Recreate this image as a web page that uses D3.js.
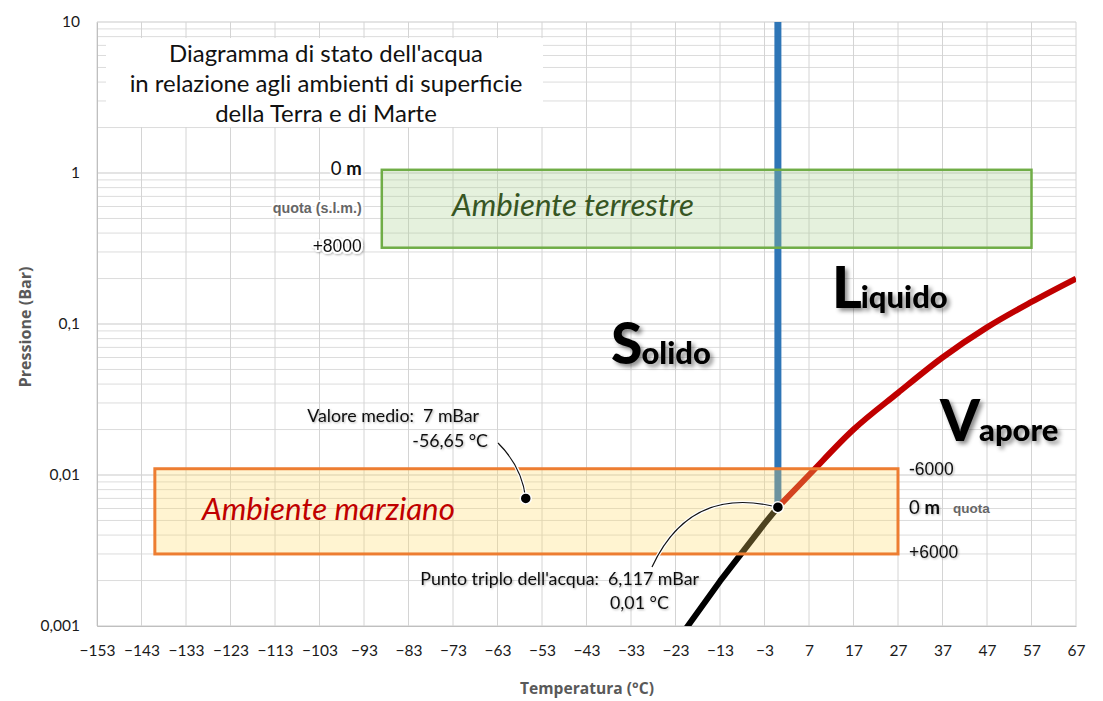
<!DOCTYPE html>
<html>
<head>
<meta charset="utf-8">
<script src="https://cdn.jsdelivr.net/npm/d3@7"></script>
<style>
  body { margin: 0; background: #fff; }
  svg { display: block; font-family: Lato, "Noto Sans", sans-serif; }
</style>
</head>
<body>
<svg id="chart" width="1103" height="701"></svg>
<script>
// axis ticks
const tempTicks = d3.range(-153, 68, 10);
const pressTicks = [0.001, 0.01, 0.1, 1, 10];
const pressLabels = ['0,001', '0,01', '0,1', '1', '10'];

// liquido / vapore
const vapTemp = [0.01, 7, 17, 27, 37, 47, 57, 67];
const vapPress = [0.006117, 0.01, 0.02, 0.035, 0.06, 0.095, 0.14, 0.2];
// solido / vapore
const sublTemp = [-23, -13, -3, 0.01];
const sublPress = [0.00077, 0.00198, 0.00476, 0.006117];
// solido / liquido
const meltTemp = [0.01, 0.01];
const meltPress = [0.006117, 10];

const triplePoint = [0.01, 0.006117];
const marsMean = [-56.65, 0.007];

// ambienti (temperature min/max, pressione min/max)
const earthTemp = [-89, 57];
const earthPress = [0.32, 1.05];
const marsTemp = [-140, 27];
const marsPress = [0.003, 0.011];

const svg = d3.select('#chart');
const m = { left: 97, right: 1076, top: 22, bottom: 626 };

const x = d3.scaleLinear().domain([-153, 67]).range([m.left, m.right]);
const y = d3.scaleLog().domain([0.001, 10]).range([m.bottom, m.top]);

// shadows
const defs = svg.append('defs');
defs.append('filter').attr('id', 'bigShadow').attr('x', '-20%').attr('y', '-20%').attr('width', '150%').attr('height', '150%')
  .append('feDropShadow').attr('dx', 3).attr('dy', 3).attr('stdDeviation', 2.2)
  .attr('flood-color', '#000').attr('flood-opacity', 0.45);
defs.append('filter').attr('id', 'softShadow').attr('x', '-10%').attr('y', '-30%').attr('width', '130%').attr('height', '170%')
  .append('feDropShadow').attr('dx', 1).attr('dy', 1).attr('stdDeviation', 1)
  .attr('flood-color', '#000').attr('flood-opacity', 0.3);
defs.append('clipPath').attr('id', 'plotClip').append('rect')
  .attr('x', m.left).attr('y', m.top).attr('width', m.right - m.left).attr('height', m.bottom - m.top);

// scale a text's font size so it spans w pixels
function fitWidth(sel, w) {
  const fs = parseFloat(sel.attr('font-size'));
  const len = sel.node().getComputedTextLength();
  sel.attr('font-size', fs * w / len);
  return fs * w / len;
}

// grid
const grid = svg.append('g');
grid.selectAll('.hgrid').data(y.ticks()).join('line')
  .attr('x1', m.left).attr('x2', m.right)
  .attr('y1', d => y(d)).attr('y2', d => y(d))
  .attr('stroke', d => pressTicks.includes(d) ? '#c9c9c9' : '#dcdcdc')
  .attr('stroke-width', 1);
grid.selectAll('.vgrid').data(tempTicks).join('line')
  .attr('x1', d => x(d)).attr('x2', d => x(d))
  .attr('y1', m.top).attr('y2', m.bottom)
  .attr('stroke', '#d4d4d4').attr('stroke-width', 1);

// axes
const yAxis = d3.axisLeft(y).tickValues(pressTicks).tickFormat((d, i) => pressLabels[i]).tickSize(0).tickPadding(17);
svg.append('g').attr('transform', `translate(${m.left},0)`).call(yAxis)
  .call(g => g.select('.domain').attr('stroke', '#bfbfbf'))
  .call(g => g.selectAll('text').attr('font-size', 15.5).attr('fill', '#1a1a1a').attr('font-family', 'Lato'));
const xAxis = d3.axisBottom(x).tickValues(tempTicks).tickSize(0).tickPadding(19);
svg.append('g').attr('transform', `translate(0,${m.bottom})`).call(xAxis)
  .call(g => g.select('.domain').attr('stroke', '#bfbfbf'))
  .call(g => g.selectAll('text').attr('font-size', 15.5).attr('fill', '#1a1a1a').attr('font-family', 'Lato'));

const yTitle = svg.append('text').attr('transform', 'translate(31,327) rotate(-90)').attr('text-anchor', 'middle')
  .attr('font-family', '"Open Sans"').attr('font-weight', 'bold').attr('font-size', 14).attr('fill', '#595959')
  .text('Pressione (Bar)');
fitWidth(yTitle, 121);
const xTitle = svg.append('text').attr('x', 587).attr('y', 694).attr('text-anchor', 'middle')
  .attr('font-family', '"Open Sans"').attr('font-weight', 'bold').attr('font-size', 14).attr('fill', '#595959')
  .text('Temperatura (°C)');
fitWidth(xTitle, 134);

// title block
svg.append('rect').attr('x', 106).attr('y', 38).attr('width', 437).attr('height', 89).attr('fill', '#fff');
const titleLines = ["Diagramma di stato dell'acqua", 'in relazione agli ambienti di superficie', 'della Terra e di Marte'];
const title = svg.append('g').attr('font-size', 20).attr('fill', '#111').attr('text-anchor', 'middle');
title.selectAll('text').data(titleLines).join('text')
  .attr('x', 326).attr('y', (d, i) => 62 + i * 30).text(d => d);
{
  const len = title.selectAll('text').nodes()[1].getComputedTextLength();
  title.attr('font-size', 20 * 393 / len);
}

// phase curves
const line = d3.line().x(d => x(d[0])).y(d => y(d[1]));
const curves = svg.append('g').attr('clip-path', 'url(#plotClip)').attr('fill', 'none').attr('stroke-linejoin', 'round');
curves.append('path').datum(meltTemp.map((t, i) => [t, meltPress[i]]))
  .attr('d', line).attr('stroke', '#2e75b6').attr('stroke-width', 7);
curves.append('path').datum(sublTemp.map((t, i) => [t, sublPress[i]]))
  .attr('d', line).attr('stroke', '#000').attr('stroke-width', 6);
curves.append('path').datum(vapTemp.map((t, i) => [t, vapPress[i]]))
  .attr('d', line.curve(d3.curveMonotoneX)).attr('stroke', '#c00000').attr('stroke-width', 6);

// environment boxes
svg.append('rect')
  .attr('x', x(earthTemp[0])).attr('y', y(earthPress[1]))
  .attr('width', x(earthTemp[1]) - x(earthTemp[0])).attr('height', y(earthPress[0]) - y(earthPress[1]))
  .attr('fill', '#a9d08e').attr('fill-opacity', 0.3)
  .attr('stroke', '#70ad47').attr('stroke-width', 2.5);
svg.append('rect')
  .attr('x', x(marsTemp[0])).attr('y', y(marsPress[1]))
  .attr('width', x(marsTemp[1]) - x(marsTemp[0])).attr('height', y(marsPress[0]) - y(marsPress[1]))
  .attr('fill', '#ffd966').attr('fill-opacity', 0.3)
  .attr('stroke', '#ed7d31').attr('stroke-width', 3);

const terr = svg.append('text').attr('x', 452).attr('y', 216).attr('font-size', 26)
  .attr('font-style', 'italic').attr('fill', '#375623').text('Ambiente terrestre');
fitWidth(terr, 242);
const marz = svg.append('text').attr('x', 202).attr('y', 520).attr('font-size', 28)
  .attr('font-style', 'italic').attr('fill', '#c00000').text('Ambiente marziano');
fitWidth(marz, 253);

// quota labels
const halo = s => s.attr('stroke', '#fff').attr('stroke-width', 4).attr('paint-order', 'stroke').attr('stroke-linejoin', 'round');
const eL = x(earthTemp[0]) - 20;
const zeroE = svg.append('text').attr('x', eL).attr('y', y(earthPress[1]) + 5).attr('text-anchor', 'end').attr('font-size', 18.5).attr('fill', '#111').call(halo);
zeroE.append('tspan').text('0 ');
zeroE.append('tspan').attr('font-weight', 'bold').text('m');
svg.append('text').attr('x', eL).attr('y', 213).attr('text-anchor', 'end')
  .attr('font-family', '"Liberation Sans"').attr('font-weight', 'bold').attr('font-size', 14.3).attr('fill', '#666')
  .call(halo).text('quota (s.l.m.)');
svg.append('text').attr('x', eL).attr('y', y(earthPress[0]) + 4).attr('text-anchor', 'end')
  .attr('font-family', '"Liberation Sans"').attr('font-size', 17.5).attr('fill', '#111')
  .call(halo).attr('filter', 'url(#softShadow)').text('+8000');

const mL = x(marsTemp[1]) + 11;
svg.append('text').attr('x', mL).attr('y', y(marsPress[1]) + 6)
  .attr('font-family', '"Liberation Sans"').attr('font-size', 17.5).attr('fill', '#111')
  .attr('filter', 'url(#softShadow)').text('-6000');
const zeroM = svg.append('text').attr('x', mL).attr('y', 514).attr('font-size', 18.5).attr('fill', '#111').attr('filter', 'url(#softShadow)');
zeroM.append('tspan').text('0 ');
zeroM.append('tspan').attr('font-weight', 'bold').text('m');
svg.append('text').attr('x', mL + 44).attr('y', 513)
  .attr('font-family', '"Liberation Sans"').attr('font-weight', 'bold').attr('font-size', 13.5).attr('fill', '#666')
  .text('quota');
svg.append('text').attr('x', mL).attr('y', y(marsPress[0]) + 4)
  .attr('font-family', '"Liberation Sans"').attr('font-size', 17.5).attr('fill', '#111')
  .attr('filter', 'url(#softShadow)').text('+6000');

// phase labels
const phases = [
  { big: 'L', rest: 'iquido', px: 832, py: 308 },
  { big: 'S', rest: 'olido', px: 611, py: 364 },
  { big: 'V', rest: 'apore', px: 940, py: 441 }
];
phases.forEach(p => {
  const t = svg.append('text').attr('x', p.px).attr('y', p.py).attr('font-weight', 900)
    .attr('fill', '#000').attr('filter', 'url(#bigShadow)');
  t.append('tspan').attr('font-size', 57).text(p.big);
  t.append('tspan').attr('font-size', 31).attr('dx', -1).text(p.rest);
});

// annotations (second space kept visible as a non-breaking space)
const note = svg.append('g').attr('fill', '#111');
const tripleText = note.append('text').attr('x', 699).attr('y', 585).attr('text-anchor', 'end')
  .attr('font-size', 16).attr('filter', 'url(#softShadow)').text("Punto triplo dell'acqua: \u00a06,117 mBar");
const noteSize = fitWidth(tripleText, 279);
note.append('text').attr('x', 479).attr('y', 422).attr('text-anchor', 'end').attr('font-size', noteSize)
  .attr('filter', 'url(#softShadow)').text('Valore medio: \u00a07 mBar');
note.append('text').attr('x', 488).attr('y', 447).attr('text-anchor', 'end').attr('font-size', noteSize)
  .attr('filter', 'url(#softShadow)').text('-56,65 °C');
note.append('text').attr('x', 610).attr('y', 609).attr('font-size', noteSize)
  .attr('filter', 'url(#softShadow)').text('0,01 °C');

const mx = x(marsMean[0]), my = y(marsMean[1]);
const tx = x(triplePoint[0]), ty = y(triplePoint[1]);
const leaders = [
  `M498,443 Q${mx - 4},${my - 32} ${mx},${my}`,
  `M652,567 Q690,485 ${tx},${ty}`
];
svg.selectAll('.leaderBg').data(leaders).join('path')
  .attr('d', d => d).attr('fill', 'none').attr('stroke', '#fff').attr('stroke-width', 3.5);
svg.selectAll('.leader').data(leaders).join('path')
  .attr('d', d => d).attr('fill', 'none').attr('stroke', '#111').attr('stroke-width', 1.2);

svg.selectAll('.pt').data([marsMean, triplePoint]).join('circle')
  .attr('cx', d => x(d[0])).attr('cy', d => y(d[1])).attr('r', 5.5)
  .attr('fill', '#000').attr('stroke', '#fff').attr('stroke-width', 1.5);
</script>
</body>
</html>
